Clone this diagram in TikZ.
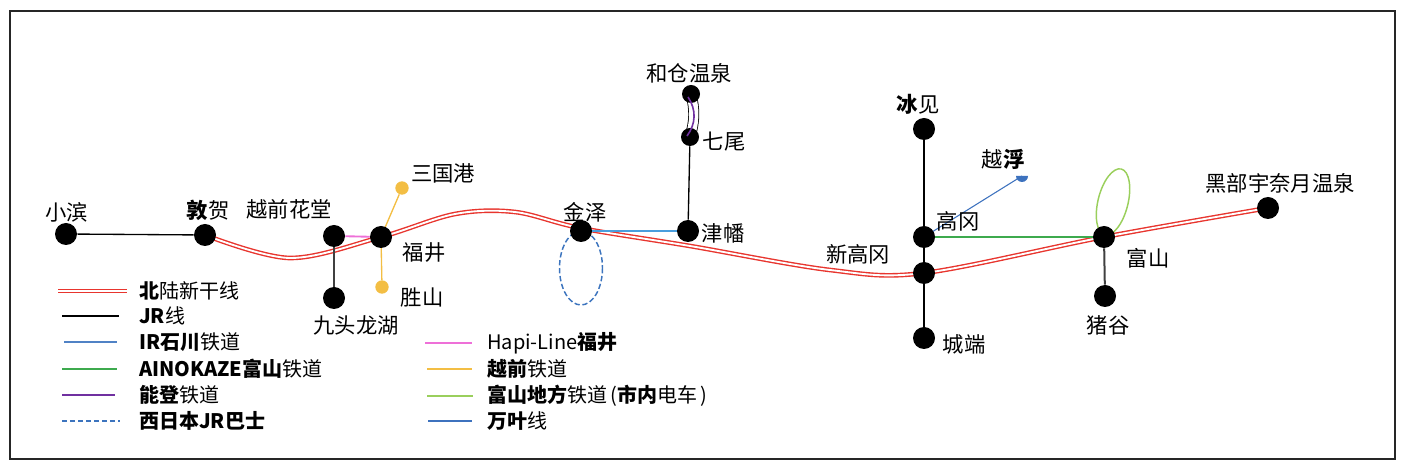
\documentclass[tikz,border=0pt]{standalone}
\usepackage{fontspec}
\setmainfont{Noto Sans CJK SC}
\usetikzlibrary{backgrounds}

\definecolor{hsred}{HTML}{E8352E}
\definecolor{irblue}{HTML}{4A9EDD}
\definecolor{aigreen}{HTML}{3DAA4E}
\definecolor{notopurple}{HTML}{7030A0}
\definecolor{busblue}{HTML}{3C74BE}
\definecolor{hapipink}{HTML}{EE70D8}
\definecolor{echiyellow}{HTML}{F3BE44}
\definecolor{chihogreen}{HTML}{9ACF5C}
\definecolor{manyoblue}{HTML}{3D72BE}
\definecolor{darkline}{HTML}{404040}

\begin{document}
\begin{tikzpicture}[x=0.75pt,y=-0.75pt,
    font=\fontsize{16}{19}\selectfont,
    station/.style={circle,fill=black,inner sep=0pt,minimum size=16.5pt},
    small station/.style={circle,fill=black,inner sep=0pt,minimum size=13.5pt},
    minor stop/.style={circle,fill=echiyellow,inner sep=0pt,minimum size=10pt},
    legend text/.style={anchor=west,inner sep=0pt,font=\fontsize{15}{18}\selectfont},
    shinkansen/.style={draw=hsred,double=white,line width=1.05pt,double distance=1.4pt},
    jr/.style={draw=black,line width=1pt},
    jr thick/.style={draw=darkline,line width=1.5pt},
    ir/.style={draw=irblue,line width=1.4pt},
    aino/.style={draw=aigreen,line width=1.4pt},
    noto/.style={draw=notopurple,line width=1.4pt},
    bus/.style={draw=busblue,line width=1.1pt,dash pattern=on 4pt off 2pt},
    hapi/.style={draw=hapipink,line width=1.4pt},
    echizen/.style={draw=echiyellow,line width=1pt},
    chiho/.style={draw=chihogreen,line width=1.1pt},
    manyo/.style={draw=manyoblue,line width=0.8pt},
  ]
  \useasboundingbox (0,0) rectangle (1404,466);
  \draw[line width=1.1pt,draw=black!85] (10,11) rectangle (1395,459);

  % stations
  \node[station] (obama) at (66,234) {};
  \node[station] (tsuruga) at (205,235) {};
  \node[station] (hanando) at (334,236) {};
  \node[station] (fukui) at (381,237) {};
  \node[minor stop] (mikuni) at (402,188) {};
  \node[minor stop] (katsuyama) at (382,287) {};
  \node[station] (kuzuryu) at (334,298) {};
  \node[station] (kanazawa) at (581,231) {};
  \node[station] (tsubata) at (688,231) {};
  \node[small station] (nanao) at (690,137) {};
  \node[small station] (wakura) at (691,94) {};
  \node[station] (himi) at (924,129) {};
  \coordinate (koshinokata) at (1022,176);
  \node[station] (takaoka) at (924,237) {};
  \node[station] (shintakaoka) at (924,273) {};
  \node[station] (johana) at (924,338) {};
  \node[station] (toyama) at (1104,237) {};
  \node[station] (inotani) at (1105,296) {};
  \node[station] (kurobe) at (1268,208) {};
  \coordinate (kanazawaloop) at (581,268);
  \coordinate (toyamaloop) at (1113,202);

  \fill[manyoblue] (koshinokata) ++(-6,0) arc[start angle=180,end angle=0,radius=6] -- cycle;

  % station names
  \node (obamaL) at (67,212) {小滨};
  \node (tsurugaL) at (208,210) {\textbf{敦}贺};
  \node (hanandoL) at (289,209) {越前花堂};
  \node (fukuiL) at (424,253) {福井};
  \node (mikuniL) at (443,173) {三国港};
  \node (katsuyamaL) at (422,297) {胜山};
  \node (kuzuryuL) at (356,325) {九头龙湖};
  \node (kanazawaL) at (585,212) {金泽};
  \node (tsubataL) at (723,233) {津幡};
  \node (nanaoL) at (724,142) {七尾};
  \node (wakuraL) at (689,73) {和仓温泉};
  \node (himiL) at (918,104) {\textbf{冰}见};
  \node (koshinokataL) at (1003,159) {越\textbf{浮}};
  \node (takaokaL) at (958,221) {高冈};
  \node (shintakaokaL) at (858,254) {新高冈};
  \node (johanaL) at (964,344) {城端};
  \node (toyamaL) at (1148,258) {富山};
  \node (inotaniL) at (1108,325) {猪谷};
  \node (kurobeL) at (1280,183) {黑部宇奈月温泉};

  \begin{scope}[on background layer]
    \draw[shinkansen] plot[smooth,tension=0.55] coordinates {(tsuruga.center) (290,258) (fukui.center)
      (455,214) (515,212) (580,228) (690,246) (830,270) (shintakaoka.center) (toyama.center) (kurobe.center)};
    \draw[jr] (obama) -- (tsuruga);
    \draw[jr thick] (hanando.center) -- (kuzuryu);
    \draw[hapi] (hanando) -- (fukui);
    \draw[echizen] (fukui.center) -- (mikuni);
    \draw[echizen] (fukui.center) -- (katsuyama);
    \draw[ir] (kanazawa.center) -- (tsubata);
    \draw[bus] (kanazawaloop) ellipse [x radius=21.5,y radius=37];
    \draw[jr] (tsubata) -- (nanao);
    \draw[jr,line width=0.6pt,double=white,double distance=7pt] (wakura.center) to[bend left=15] (nanao.center);
    \draw[jr] (himi) -- (takaoka) -- (shintakaoka) -- (johana);
    \draw[aino] (takaoka.center) -- (toyama.center);
    \draw[manyo] (takaoka.center) -- (koshinokata);
    \draw[chiho,rotate around={-14:(toyamaloop)}] (toyamaloop) ellipse [x radius=15,y radius=34];
    \draw[jr thick] (toyama) -- (inotani);
  \end{scope}
  \draw[noto,line width=1.2pt] (wakura.center) ++(-3,3) to[bend left=35] ([shift={(-3,-1)}]nanao.center);

  % legend
  \draw[shinkansen] (58,291) -- (127,291);
  \node[legend text] (legHS) at (139,291) {\textbf{北}陆新干线};
  \draw[jr] (62,316) -- (119,316);
  \node[legend text] (legJR) at (139,316) {\textbf{JR}线};
  \draw[ir,draw=busblue!90] (64,342) -- (117,342);
  \node[legend text] (legIR) at (139,342) {\textbf{IR石川}铁道};
  \draw[aino] (62,369) -- (117,369);
  \node[legend text] (legAI) at (139,369) {\textbf{AINOKAZE富山}铁道};
  \draw[noto] (62,395) -- (115,395);
  \node[legend text] (legNT) at (139,395) {\textbf{能登}铁道};
  \draw[bus] (62,421) -- (120,421);
  \node[legend text] (legBS) at (139,421) {\textbf{西日本JR巴士}};
  \draw[hapi] (425,343) -- (472,343);
  \node[legend text] (legHP) at (487,343) {Hapi-Line\textbf{福井}};
  \draw[echizen] (427,369) -- (472,369);
  \node[legend text] (legEC) at (487,369) {\textbf{越前}铁道};
  \draw[chiho] (427,396) -- (473,396);
  \node[legend text] (legCH) at (487,396) {\textbf{富山地方}铁道\,(\textbf{市内}电车\,)};
  \draw[manyo] (428,421) -- (472,421);
  \node[legend text] (legMY) at (487,421) {\textbf{万叶}线};
\end{tikzpicture}
\end{document}
